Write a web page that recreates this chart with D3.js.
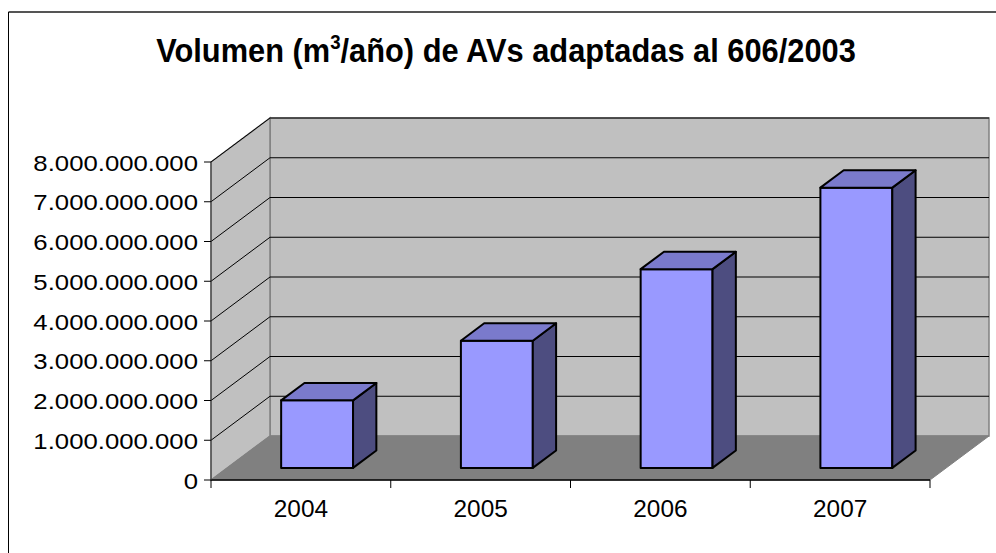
<!DOCTYPE html>
<html>
<head>
<meta charset="utf-8">
<script src="https://cdn.jsdelivr.net/npm/d3@7"></script>
<style>
  body { margin: 0; background: #fff; }
  text { font-family: Arial, "Liberation Sans", sans-serif; fill: #000; }
</style>
</head>
<body>
<svg width="996" height="553"></svg>
<script>
var years = ["2004", "2005", "2006", "2007"];
var volumes = [1.7e9, 3.2e9, 5.0e9, 7.05e9];
var yTicks = [0, 1e9, 2e9, 3e9, 4e9, 5e9, 6e9, 7e9, 8e9];

var svg = d3.select("svg");

// depth of the 3d box (front -> back)
var dx = 59, dy = -44;
var f0 = 0.275, f1 = 0.67;

var x = d3.scaleBand()
    .domain(years)
    .range([211, 930])
    .paddingInner(0.6)
    .paddingOuter(0.3);

var y = d3.scaleLinear()
    .domain([0, 8e9])
    .range([480, 162]);

var fmt = function(v) { return d3.format(",")(v).replace(/,/g, "."); };

// frame
svg.append("line").attr("x1", 8.5).attr("y1", 12).attr("x2", 996).attr("y2", 12)
    .attr("stroke", "#555").attr("stroke-width", 2);
svg.append("line").attr("x1", 8.5).attr("y1", 12).attr("x2", 8.5).attr("y2", 553)
    .attr("stroke", "#000").attr("stroke-width", 1);

var x0 = x.range()[0], x1 = x.range()[1];
var yTop = y(8e9), yBot = y(0);

// back wall
svg.append("polygon")
    .attr("points", [[x0 + dx, yTop + dy], [x1 + dx, yTop + dy], [x1 + dx, yBot + dy], [x0 + dx, yBot + dy]].join(" "))
    .attr("fill", "#c0c0c0").attr("stroke", "#808080").attr("stroke-width", 1.5);
// side wall
svg.append("polygon")
    .attr("points", [[x0, yTop], [x0 + dx, yTop + dy], [x0 + dx, yBot + dy], [x0, yBot]].join(" "))
    .attr("fill", "#c0c0c0").attr("stroke", "#808080").attr("stroke-width", 1.5);

// gridlines
var grid = svg.append("g").attr("stroke", "#000").attr("stroke-width", 1).attr("fill", "none");
yTicks.filter(function(t) { return t > 0; }).forEach(function(t) {
  grid.append("path")
    .attr("d", "M" + x0 + "," + y(t) + "L" + (x0 + dx) + "," + (y(t) + dy) + "L" + (x1 + dx) + "," + (y(t) + dy));
});

// floor
svg.append("polygon")
    .attr("points", [[x0, yBot], [x0 + dx, yBot + dy], [x1 + dx, yBot + dy], [x1, yBot]].join(" "))
    .attr("fill", "#808080").attr("stroke", "#808080").attr("stroke-width", 1);

// axes
svg.append("line").attr("x1", x0).attr("y1", yBot).attr("x2", x1).attr("y2", yBot)
    .attr("stroke", "#000").attr("stroke-width", 1.5);
svg.append("line").attr("x1", x0).attr("y1", yTop).attr("x2", x0).attr("y2", yBot)
    .attr("stroke", "#333").attr("stroke-width", 1);

// y ticks + labels
var yAx = svg.append("g");
yTicks.forEach(function(t) {
  yAx.append("line").attr("x1", x0 - 7).attr("x2", x0).attr("y1", y(t)).attr("y2", y(t))
      .attr("stroke", "#000");
  yAx.append("text")
      .attr("transform", "translate(198," + (y(t) + 8.5) + ") scale(1.12,1)")
      .attr("text-anchor", "end")
      .style("font-size", "23px")
      .text(fmt(t));
});

// x ticks + labels
var step = x.step();
var xAx = svg.append("g");
d3.range(years.length + 1).forEach(function(i) {
  var xx = x0 + i * step;
  xAx.append("line").attr("x1", xx).attr("x2", xx).attr("y1", yBot).attr("y2", yBot + 8)
      .attr("stroke", "#000");
});
years.forEach(function(yr) {
  xAx.append("text")
      .attr("transform", "translate(" + (x(yr) + x.bandwidth() / 2) + ",517) scale(1.06,1)")
      .attr("text-anchor", "middle")
      .style("font-size", "23px")
      .text(yr);
});

// bars
var bw = x.bandwidth();
var bdx = dx * (f1 - f0), bdy = dy * (f1 - f0);
var bars = svg.selectAll(".bar")
    .data(years.map(function(yr, i) { return { year: yr, value: volumes[i] }; }))
    .enter().append("g")
    .attr("class", "bar")
    .attr("stroke", "#000").attr("stroke-width", 2).attr("stroke-linejoin", "round");

bars.each(function(d) {
  var g = d3.select(this);
  var bx = x(d.year) + dx * f0;
  var bb = y(0) + dy * f0;
  var bt = y(d.value) + dy * f0;
  g.append("rect").attr("x", bx).attr("y", bt).attr("width", bw).attr("height", bb - bt)
      .attr("fill", "#9999ff");
  g.append("polygon")
      .attr("points", [[bx + bw, bt], [bx + bw + bdx, bt + bdy], [bx + bw + bdx, bb + bdy], [bx + bw, bb]].join(" "))
      .attr("fill", "#4d4d80");
  g.append("polygon")
      .attr("points", [[bx, bt], [bx + bdx, bt + bdy], [bx + bw + bdx, bt + bdy], [bx + bw, bt]].join(" "))
      .attr("fill", "#7a7acc");
});

// title
var title = svg.append("text")
    .attr("text-anchor", "middle")
    .style("font-size", "33px")
    .style("font-weight", "bold");
title.append("tspan").text("Volumen (m");
title.append("tspan").attr("dy", -13).style("font-size", "20px").text("3");
title.append("tspan").attr("dy", 13).text("/año) de AVs adaptadas al 606/2003");
var tw = title.node().getComputedTextLength();
var sx = 700 / tw;
title.attr("transform", "translate(506,62) scale(" + sx + ",1)");
</script>
</body>
</html>
